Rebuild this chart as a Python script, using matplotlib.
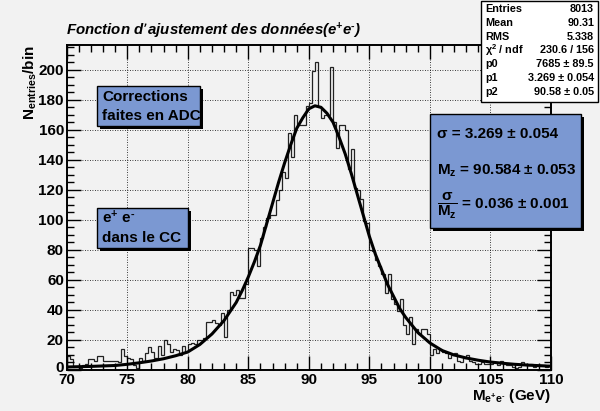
import numpy as np
from matplotlib import pyplot as plt
from matplotlib.patches import Rectangle
from matplotlib.ticker import MultipleLocator
from matplotlib.transforms import ScaledTranslation

plt.rcParams['font.family'] = ['Liberation Sans', 'DejaVu Sans']
plt.rcParams['font.weight'] = 'bold'
plt.rcParams['mathtext.default'] = 'regular'

# histogram: 160 bins of 0.25 GeV from 70 to 110
x_lo, x_hi = 70, 110
counts = [
    9, 7, 2, 2,   1, 3, 4, 7,   7, 6, 9, 9,   6, 6, 6, 6,
    6, 5, 14, 9,  8, 7, 3, 1,   8, 6, 11, 15, 12, 8, 16, 10,
    20, 17, 12, 14, 13, 10, 16, 12, 17, 18, 17, 20, 20, 21, 32, 32,
    33, 31, 30, 38, 22, 40, 52, 50, 53, 48, 48, 57, 81, 81, 80, 69,
    88, 95, 101, 103, 103, 113, 120, 132, 128, 158, 142, 170, 163, 163, 163, 176,
    178, 199, 205, 175, 168, 170, 170, 202, 165, 148, 163, 163, 160, 134, 147, 121,
    120, 114, 99, 98, 80, 79, 73, 69, 64, 51, 64, 47, 44, 39, 47, 30,
    24, 35, 17, 27, 24, 27, 27, 24, 10, 14, 11, 14, 12, 11, 8, 10,
    11, 6, 5, 8, 10, 6, 5, 4, 4, 5, 4, 4, 4, 5, 3, 6,
    4, 3, 3, 2, 1, 2, 5, 4, 3, 4, 2, 3, 3, 3, 2, 3,
]

# fitted curve
fit_x = [70, 71, 72, 73, 74, 75, 76, 77, 78, 79, 80, 81, 82, 83, 83.5, 84, 84.5,
         85, 85.5, 86, 86.5, 87, 87.5, 88, 88.5, 89, 89.5, 90, 90.5, 91, 91.5,
         92, 92.5, 93, 93.5, 94, 94.5, 95, 95.5, 96, 96.5, 97, 97.5, 98, 99,
         100, 101, 102, 103, 104, 105, 106, 107, 108, 109, 110]
fit_y = [2.0, 2.2, 2.4, 2.7, 3.0, 3.8, 4.8, 6.0, 7.5, 9.5, 12, 17, 24, 33, 39, 45, 53,
         62, 72, 83, 97, 111, 125, 138, 150, 161, 168, 174, 176, 175, 171,
         165, 155, 144, 131, 117, 103, 89, 77, 67, 57, 49, 41, 35, 25,
         18, 13, 10, 8, 6.5, 5.3, 4.5, 3.8, 3.3, 2.9, 2.5]

x_ticks = [70, 75, 80, 85, 90, 95, 100, 105, 110]
y_ticks = [0, 20, 40, 60, 80, 100, 120, 140, 160, 180, 200]

stats_names = ['Entries', 'Mean', 'RMS', 'χ$^{2}$ / ndf', 'p0', 'p1', 'p2']
stats_vals = ['8013', '90.31', '5.338', '230.6 / 156', '7685 ± 89.5',
              '3.269 ± 0.054', '90.58 ± 0.05']

bg = '#f2f2f2'
box_blue = '#7b98d2'
hy = '\u2010'  # short hyphen for the e- superscripts

W, H = 600, 411
fig = plt.figure(figsize=(6, 4.11), dpi=100, facecolor=bg)
ax = fig.add_axes([66.7 / W, 1 - 370 / H, (551 - 66.7) / W, (370 - 45) / H])
ax.set_facecolor(bg)

edges = np.linspace(x_lo, x_hi, len(counts) + 1)
ax.stairs(counts, edges, color='#222222', lw=0.9)
ax.plot(fit_x, fit_y, color='black', lw=2.2)

ax.set_xlim(x_lo, x_hi)
ax.set_ylim(0, 216.5)
ax.set_xticks(x_ticks)
ax.set_yticks(y_ticks)
ax.xaxis.set_minor_locator(MultipleLocator(1))
ax.yaxis.set_minor_locator(MultipleLocator(5))
ax.tick_params(which='major', direction='in', top=True, right=True, length=10, width=1,
               labelsize=11, pad=2)
ax.tick_params(which='minor', direction='in', top=True, right=True, length=5, width=1)
for lab in ax.get_xticklabels() + ax.get_yticklabels():
    lab.set_fontweight('bold')
# lift the "0" a little, as the original does
zero = ax.get_yticklabels()[0]
zero.set_transform(zero.get_transform() + ScaledTranslation(0, 4 / 100, fig.dpi_scale_trans))
ax.grid(True, which='major', color='black', ls=(0, (1, 2)), lw=0.6)
for s in ax.spines.values():
    s.set_linewidth(1.4)

fig.text(66 / W, 1 - 31 / H, 'Fonction d’ajustement des données(e$^{+}$e$^{' + hy + '}$)',
         fontsize=10.8, fontweight='bold', fontstyle='italic', va='center', ha='left')
fig.text(30 / W, 1 - 45 / H, 'N$_{entries}$/bin', rotation=90, fontsize=11,
         fontweight='bold', va='top', ha='center')
fig.text(551 / W, 1 - 396 / H, 'M$_{e^{+}e^{' + hy + '}}$ (GeV)', fontsize=11,
         fontweight='bold', va='center', ha='right')


def box(x0, y0, x1, y1, color, shadow=3):
    fig.patches.append(Rectangle((x0 / W + shadow / W, 1 - (y1 + shadow) / H),
                                 (x1 - x0) / W, (y1 - y0) / H, transform=fig.transFigure,
                                 facecolor='black', edgecolor='black', lw=0, zorder=5))
    fig.patches.append(Rectangle((x0 / W, 1 - y1 / H), (x1 - x0) / W, (y1 - y0) / H,
                                 transform=fig.transFigure, facecolor=color,
                                 edgecolor='black', lw=1, zorder=6))


def txt(x, y, s, size=11, ha='left'):
    fig.text(x / W, 1 - y / H, s, fontsize=size, fontweight='bold', va='center',
             ha=ha, zorder=7)


box(97, 86, 200, 126, box_blue)
txt(102, 97, 'Corrections')
txt(102, 116, 'faites en ADC')

box(97, 208, 188, 248, box_blue)
txt(102, 218, 'e$^{+}$ e$^{' + hy + '}$')
txt(102, 238, 'dans le CC')

box(430, 114, 581, 228, box_blue)
txt(437, 134, 'σ = 3.269 ± 0.054')
txt(437, 171, 'M$_{z}$ = 90.584 ± 0.053')
txt(437, 206, r'$\dfrac{\sigma}{M_{z}}$ = 0.036 ± 0.001')

# stats box
box(481, 1, 598, 102, 'white', shadow=0)
for i, (n, v) in enumerate(zip(stats_names, stats_vals)):
    yy = 9 + i * 13.8
    txt(485, yy, n, size=7.8)
    txt(594, yy, v, size=7.8, ha='right')

plt.savefig('out.png', dpi=100, facecolor=bg)
